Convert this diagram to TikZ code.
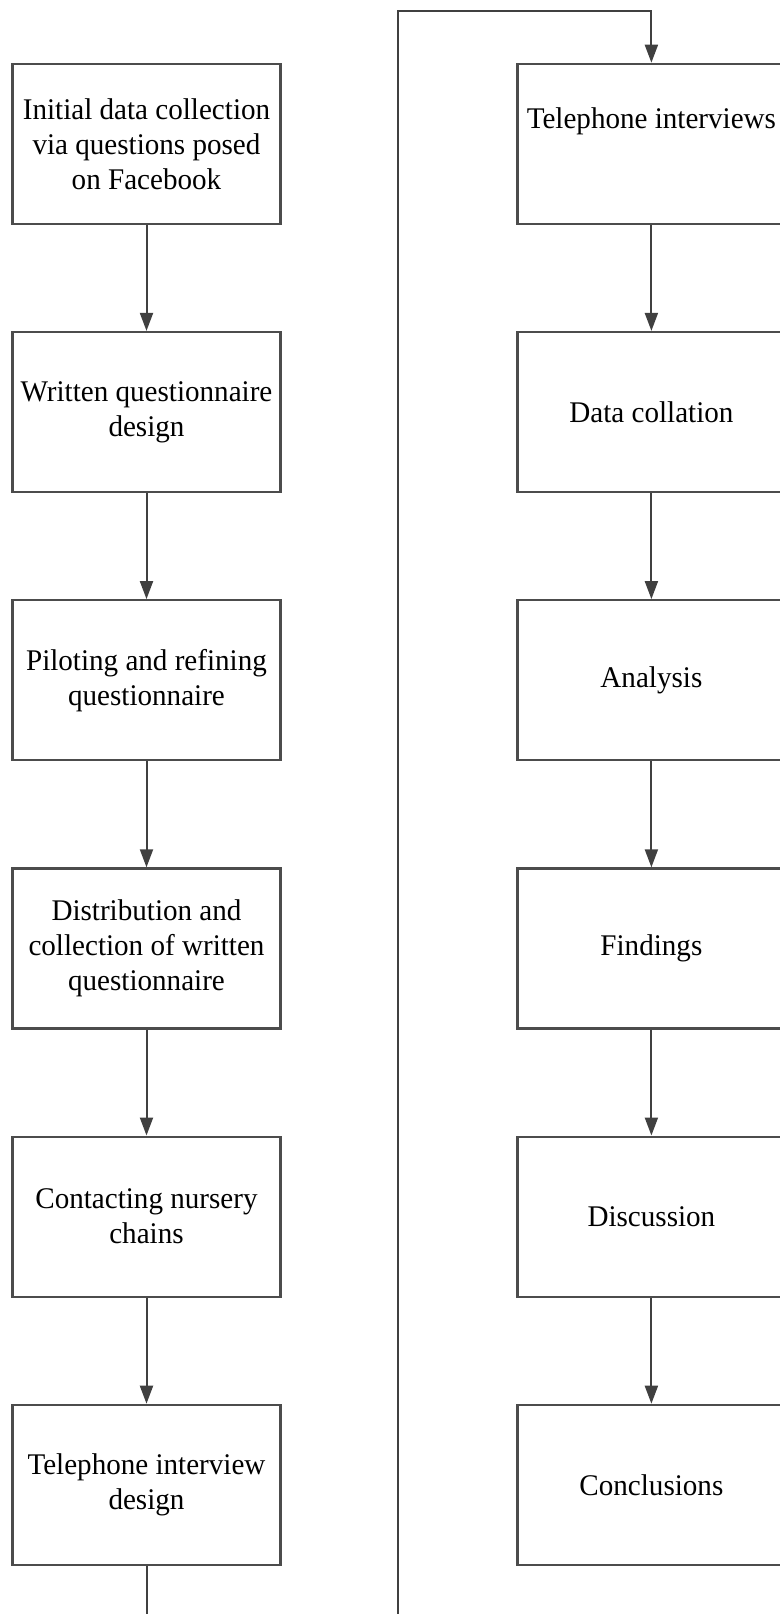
\documentclass[tikz,border=0pt]{standalone}
\usepackage{fontspec}
\setmainfont{Liberation Serif}[FakeStretch=0.97]
\usetikzlibrary{positioning,arrows.meta}
\tikzset{
  stepbox/.style={draw=black!70,line width=1.1pt,minimum width=134pt,minimum height=80pt,
    inner sep=1pt,align=center,font=\fontsize{15}{17.5}\selectfont},
  flow/.style={-{Triangle[length=9pt,width=6.5pt]},line width=1pt,black!75},
}
\begin{document}
\begin{tikzpicture}[x=0.5pt,y=0.5pt,node distance=53pt]
  \useasboundingbox (0,0) rectangle (780,-1614);
  % left column
  \node[stepbox] (l1) at (146.5,-143.8) {Initial data collection\\via questions posed\\on Facebook};
  \node[stepbox,below=of l1] (l2) {Written questionnaire\\design};
  \node[stepbox,below=of l2] (l3) {Piloting and refining\\questionnaire};
  \node[stepbox,below=of l3] (l4) {Distribution and\\collection of written\\questionnaire};
  \node[stepbox,below=of l4] (l5) {Contacting nursery\\chains};
  \node[stepbox,below=of l5] (l6) {Telephone interview\\design};
  % right column
  \node[stepbox] (r1) at (651.4,-143.8) {Telephone interviews\\[8pt]\mbox{}};
  \node[stepbox,below=of r1] (r2) {Data collation};
  \node[stepbox,below=of r2] (r3) {Analysis};
  \node[stepbox,below=of r3] (r4) {Findings};
  \node[stepbox,below=of r4] (r5) {Discussion};
  \node[stepbox,below=of r5] (r6) {Conclusions};
  \foreach \a/\b in {l1/l2,l2/l3,l3/l4,l4/l5,l5/l6,r1/r2,r2/r3,r3/r4,r4/r5,r5/r6}
    \draw[flow] (\a) -- (\b);
  % link between the columns
  \coordinate (turn) at (398,-1700);
  \coordinate (top) at (398,-11.3);
  \draw[flow] (l6.south) |- (turn) -- (top) -| (r1.north);
\end{tikzpicture}
\end{document}
